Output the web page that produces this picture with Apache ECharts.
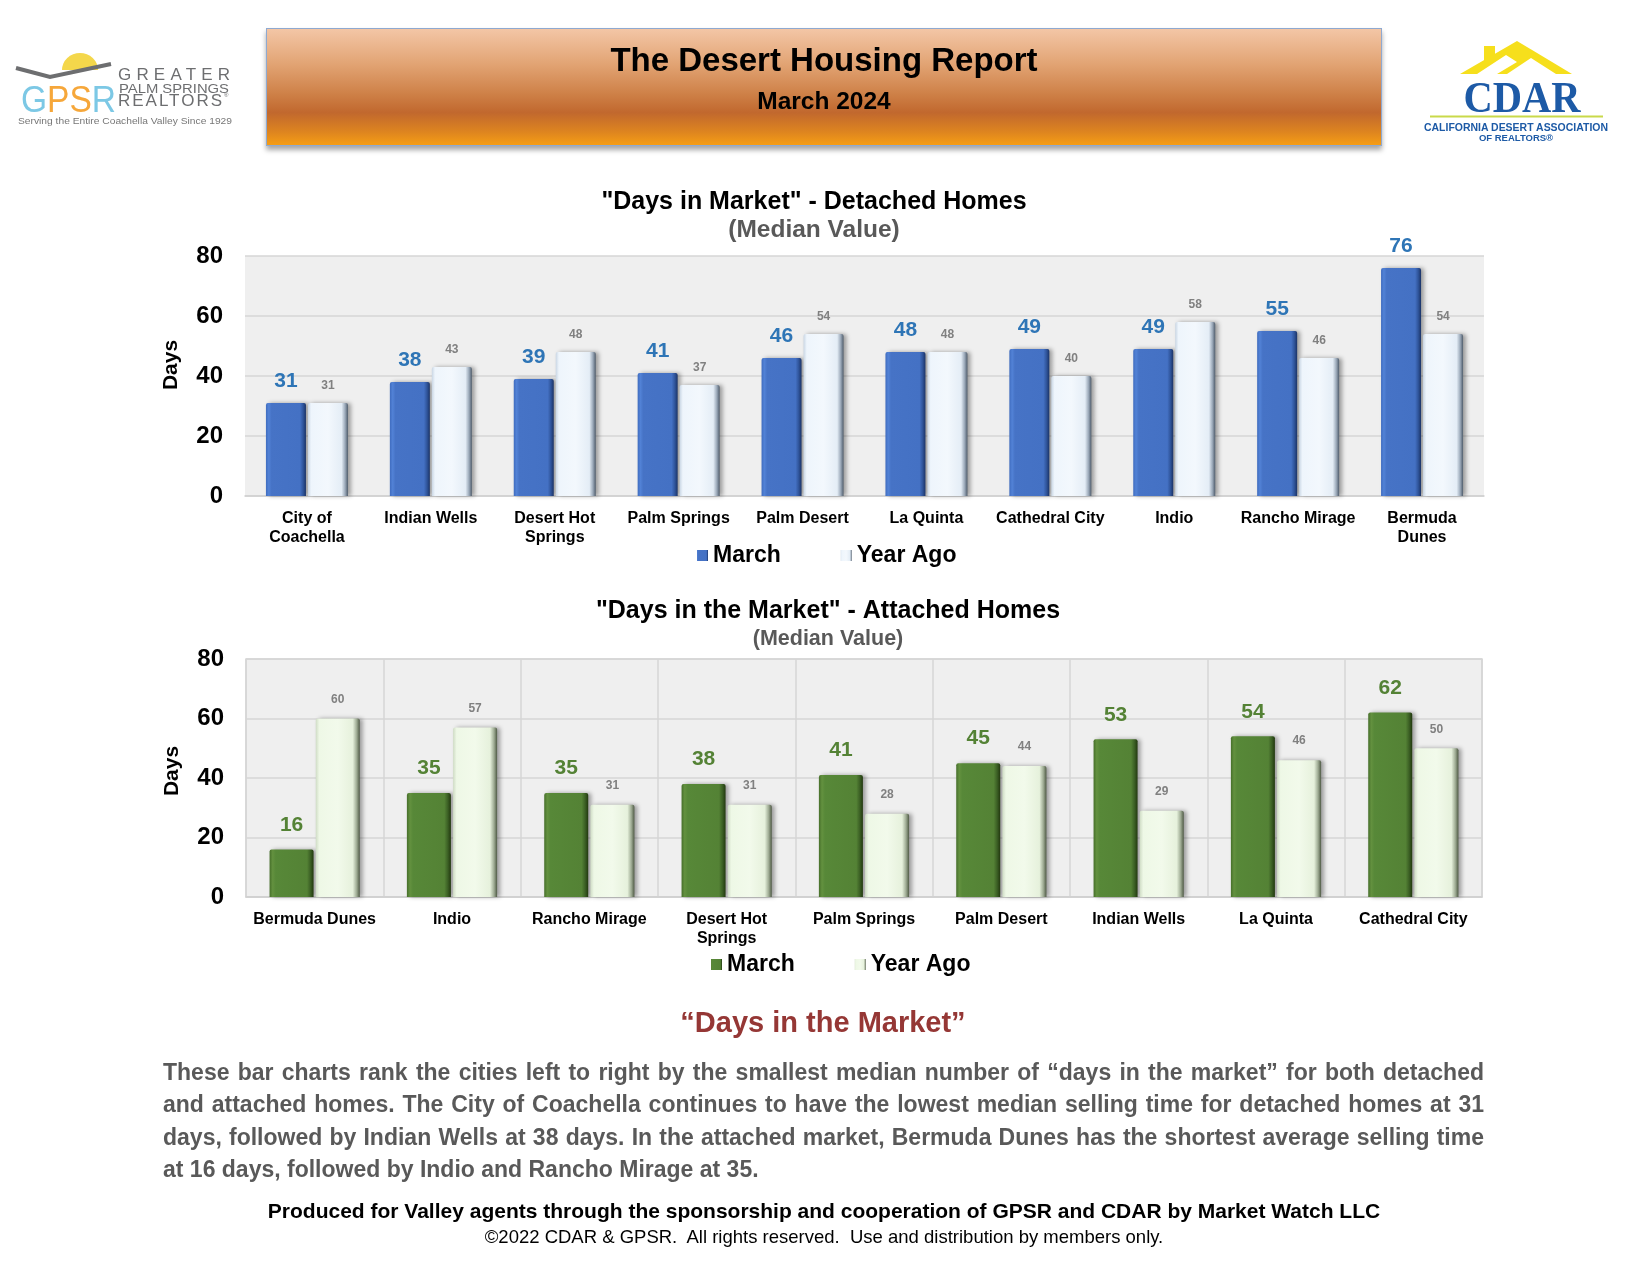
<!DOCTYPE html>
<html>
<head>
<meta charset="utf-8">
<script src="https://cdn.jsdelivr.net/npm/echarts@6/dist/echarts.min.js"></script>
<style>
  html, body { margin: 0; padding: 0; background: #fff; }
  #page { position: relative; width: 1650px; height: 1275px; overflow: hidden; font-family: 'Liberation Sans', Arial, sans-serif; }
  #chart { position: absolute; left: 0; top: 0; width: 1650px; height: 1275px; }
  .ov { position: absolute; pointer-events: none; }
  #header { left: 266px; top: 28px; width: 1114px; height: 116px; border: 1px solid #8fa9d0;
    background: linear-gradient(to bottom, #f3c6a6 0%, #e2a474 30%, #cf8249 55%, #c1682e 72%, #dc8320 88%, #f59d15 100%);
    box-shadow: 0 4px 5px rgba(0,0,0,0.35); }
  #h1 { position: absolute; left: 0; width: 100%; top: 12px; line-height: 38px; text-align: center; font-weight: bold; font-size: 33px; color: #000; }
  #h2 { position: absolute; left: 0; width: 100%; top: 58px; line-height: 28px; text-align: center; font-weight: bold; font-size: 24.5px; color: #000; }
  #sectionTitle { left: 0; width: 1646px; top: 1005px; line-height: 34px; text-align: center; font-weight: bold; font-size: 29px; color: #953735; }
  #para { left: 163px; width: 1321px; top: 1056px; font-weight: bold; font-size: 23px; color: #595959; line-height: 32.4px; }
  #para .l { text-align: justify; text-align-last: justify; white-space: nowrap; }
  #para .last { text-align: left; text-align-last: left; }
  #foot1 { left: 0; width: 1648px; top: 1199px; line-height: 24px; text-align: center; font-weight: bold; font-size: 21px; color: #000; }
  #foot2 { left: 0; width: 1648px; top: 1226px; line-height: 22px; text-align: center; font-size: 18.5px; color: #000; }
</style>
</head>
<body>
<div id="page">
  <div id="chart"></div>
  <div id="header" class="ov"><div id="h1">The Desert Housing Report</div><div id="h2">March 2024</div></div>
  <svg class="ov" style="left:0;top:0" width="1650" height="160" viewBox="0 0 1650 160">
    <!-- GPSR logo -->
    <path d="M62,70 A18,17 0 0 1 98,70 Z" fill="#f4d74b"/>
    <polyline points="16,68 50,77 111,64" fill="none" stroke="#6d6e70" stroke-width="4" stroke-linejoin="miter"/>
    <text x="118" y="80" font-family="Liberation Sans, Arial" font-size="17" fill="#6d6e70" textLength="112" lengthAdjust="spacing">GREATER</text>
    <text x="119" y="93" font-family="Liberation Sans, Arial" font-size="12.5" fill="#6d6e70" textLength="110" lengthAdjust="spacingAndGlyphs">PALM SPRINGS</text>
    <text x="118" y="106" font-family="Liberation Sans, Arial" font-size="17" fill="#6d6e70" textLength="104" lengthAdjust="spacing">REALTORS</text>
    <text x="224" y="97" font-family="Liberation Sans, Arial" font-size="6" fill="#6d6e70">®</text>
    <text x="21" y="112" font-family="Liberation Sans, Arial" font-size="37" textLength="95" lengthAdjust="spacingAndGlyphs"><tspan fill="#7cc8e5">G</tspan><tspan fill="#f6a73a">PS</tspan><tspan fill="#7cc8e5">R</tspan></text>
    <text x="18" y="124" font-family="Liberation Sans, Arial" font-size="8.5" fill="#777" textLength="214" lengthAdjust="spacingAndGlyphs">Serving the Entire Coachella Valley Since 1929</text>
    <!-- CDAR logo -->
    <rect x="1484" y="46" width="11" height="16" fill="#f6df1c"/>
    <polygon points="1460,74 1517,41 1572,74 1556,74 1531,58 1507,74 1497,74 1517,62 1506,55 1477,74" fill="#f6df1c"/>
    <text x="1522" y="112" text-anchor="middle" font-family="Liberation Serif, Times New Roman, serif" font-weight="bold" font-size="44" fill="#1d5aa6" textLength="117" lengthAdjust="spacingAndGlyphs">CDAR</text>
    <line x1="1430" y1="116.5" x2="1603" y2="116.5" stroke="#c9d94a" stroke-width="2"/>
    <text x="1516" y="131" text-anchor="middle" font-family="Liberation Sans, Arial" font-weight="bold" font-size="10.5" fill="#1d5aa6" textLength="184" lengthAdjust="spacingAndGlyphs">CALIFORNIA DESERT ASSOCIATION</text>
    <text x="1516" y="140.5" text-anchor="middle" font-family="Liberation Sans, Arial" font-weight="bold" font-size="9.5" fill="#1d5aa6">OF REALTORS®</text>
  </svg>
  <div id="sectionTitle" class="ov">“Days in the Market”</div>
  <div id="para" class="ov">
    <div class="l">These bar charts rank the cities left to right by the smallest median number of “days in the market” for both detached</div>
    <div class="l">and attached homes. The City of Coachella continues to have the lowest median selling time for detached homes at 31</div>
    <div class="l">days, followed by Indian Wells at 38 days. In the attached market, Bermuda Dunes has the shortest average selling time</div>
    <div class="l last">at 16 days, followed by Indio and Rancho Mirage at 35.</div>
  </div>
  <div id="foot1" class="ov">Produced for Valley agents through the sponsorship and cooperation of GPSR and CDAR by Market Watch LLC</div>
  <div id="foot2" class="ov">©2022 CDAR &amp; GPSR.&nbsp; All rights reserved.&nbsp; Use and distribution by members only.</div>
</div>
<script>
// ---- Data ----
const detachedCities = ['City of Coachella', 'Indian Wells', 'Desert Hot Springs', 'Palm Springs', 'Palm Desert', 'La Quinta', 'Cathedral City', 'Indio', 'Rancho Mirage', 'Bermuda Dunes'];
const detachedTickLabels = ['City of\nCoachella', 'Indian Wells', 'Desert Hot\nSprings', 'Palm Springs', 'Palm Desert', 'La Quinta', 'Cathedral City', 'Indio', 'Rancho Mirage', 'Bermuda\nDunes'];
const detachedMarch = [31, 38, 39, 41, 46, 48, 49, 49, 55, 76];
const detachedYearAgo = [31, 43, 48, 37, 54, 48, 40, 58, 46, 54];

const attachedCities = ['Bermuda Dunes', 'Indio', 'Rancho Mirage', 'Desert Hot Springs', 'Palm Springs', 'Palm Desert', 'Indian Wells', 'La Quinta', 'Cathedral City'];
const attachedTickLabels = ['Bermuda Dunes', 'Indio', 'Rancho Mirage', 'Desert Hot\nSprings', 'Palm Springs', 'Palm Desert', 'Indian Wells', 'La Quinta', 'Cathedral City'];
const attachedMarch = [16, 35, 35, 38, 41, 45, 53, 54, 62];
const attachedYearAgo = [60, 57, 31, 31, 28, 44, 29, 46, 50];

const yTicks = { min: 0, max: 80, interval: 20 };

// ---- Styles ----
const FONT = "'Liberation Sans', Arial, sans-serif";
function grad(stops) {
  return new echarts.graphic.LinearGradient(0, 0, 1, 0, stops.map(c => ({ offset: c[0], color: c[1] })));
}
const blueMarch = grad([[0, '#3f6cbf'], [0.07, '#5282d6'], [0.14, '#4673c6'], [0.85, '#4471c4'], [0.93, '#2f549a'], [1, '#1b3366']]);
const blueYA = grad([[0, '#c9d6e4'], [0.08, '#eef5fc'], [0.5, '#f3f8fd'], [0.84, '#e4edf6'], [0.93, '#9aa8b8'], [1, '#4f5c6b']]);
const greenMarch = grad([[0, '#466f2a'], [0.07, '#63913f'], [0.14, '#578838'], [0.85, '#548235'], [0.93, '#3b5f24'], [1, '#22380f']]);
const greenYA = grad([[0, '#cfdcc5'], [0.08, '#eef8e6'], [0.5, '#f2faeb'], [0.84, '#e6f1dc'], [0.93, '#9eab93'], [1, '#4f5a45']]);
const shadow = { shadowColor: 'rgba(0,0,0,0.35)', shadowBlur: 4, shadowOffsetX: 3, shadowOffsetY: 0 };

function yAxisCfg(gridIndex, padTop) {
  return {
    gridIndex, type: 'value', min: yTicks.min, max: yTicks.max, interval: yTicks.interval,
    name: 'Days', nameLocation: 'middle', nameGap: 63,
    nameTextStyle: { fontFamily: FONT, fontWeight: 'bold', fontSize: 21, color: '#000', padding: [0, 0, 0, padTop] },
    axisLine: { show: false }, axisTick: { show: false },
    axisLabel: { fontFamily: FONT, fontWeight: 'bold', fontSize: 24, color: '#000', margin: 22 },
    splitLine: { lineStyle: { color: '#d6d6d6', width: 1.5 } }
  };
}
function xAxisCfg(gridIndex, cats, ticks, vlines) {
  return {
    gridIndex, type: 'category', data: cats,
    axisTick: { show: false },
    axisLine: { lineStyle: { color: '#d0d0d0', width: 1.5 } },
    axisLabel: { interval: 0, fontFamily: FONT, fontWeight: 'bold', fontSize: 16, color: '#000', margin: 13, lineHeight: 19,
      formatter: (v, i) => ticks[i] },
    splitLine: { show: vlines, lineStyle: { color: '#d6d6d6', width: 1.5 } }
  };
}
function barSeries(name, idx, data, color, labelColor, labelSize, dist, width) {
  return {
    name, type: 'bar', xAxisIndex: idx, yAxisIndex: idx, data, barWidth: width, barGap: '5%',
    itemStyle: Object.assign({ color, borderRadius: [2, 2, 0, 0] }, shadow),
    label: { show: true, position: 'top', distance: dist, fontFamily: FONT, fontWeight: 'bold', fontSize: labelSize, color: labelColor }
  };
}
function titleCfg(text, x, y, subSize) {
  return { text, subtext: '(Median Value)', left: x, top: y, textAlign: 'center', itemGap: 1, padding: 0,
    textStyle: { fontFamily: FONT, fontWeight: 'bold', fontSize: 25, lineHeight: 27, color: '#000' },
    subtextStyle: { fontFamily: FONT, fontWeight: 'bold', fontSize: subSize, lineHeight: 26, color: '#595959' } };
}
function legendCfg(x, y, names) {
  return { left: x, top: y, padding: 0, itemWidth: 11, itemHeight: 11, itemGap: 60, icon: 'rect',
    data: names, formatter: n => n.replace(/^(Detached|Attached) /, ''),
    textStyle: { fontFamily: FONT, fontWeight: 'bold', fontSize: 23, color: '#000' } };
}

const chart = echarts.init(document.getElementById('chart'), null, { renderer: 'canvas' });
chart.setOption({
  animation: false,
  title: [
    titleCfg('"Days in Market" - Detached Homes', 814, 189, 24.5),
    titleCfg('"Days in the Market" - Attached Homes', 828, 598, 21.5)
  ],
  legend: [
    legendCfg(697, 544, ['Detached March', 'Detached Year Ago']),
    legendCfg(711, 953, ['Attached March', 'Attached Year Ago'])
  ],
  grid: [
    { left: 245, right: 166, top: 256, height: 240, show: true, backgroundColor: '#efefef', borderColor: '#efefef', borderWidth: 0 },
    { left: 246, right: 168, top: 659, height: 238, show: true, backgroundColor: '#efefef', borderColor: '#d6d6d6', borderWidth: 1.5 }
  ],
  xAxis: [xAxisCfg(0, detachedCities, detachedTickLabels, false), xAxisCfg(1, attachedCities, attachedTickLabels, true)],
  yAxis: [yAxisCfg(0, 22), yAxisCfg(1, 14)],
  series: [
    barSeries('Detached March', 0, detachedMarch, blueMarch, '#2e75b6', 21, 11, 40),
    barSeries('Detached Year Ago', 0, detachedYearAgo, blueYA, '#808080', 12, 11, 40),
    barSeries('Attached March', 1, attachedMarch, greenMarch, '#548235', 21, 14, 44),
    barSeries('Attached Year Ago', 1, attachedYearAgo, greenYA, '#808080', 12, 13, 44)
  ]
});
</script>
</body>
</html>
